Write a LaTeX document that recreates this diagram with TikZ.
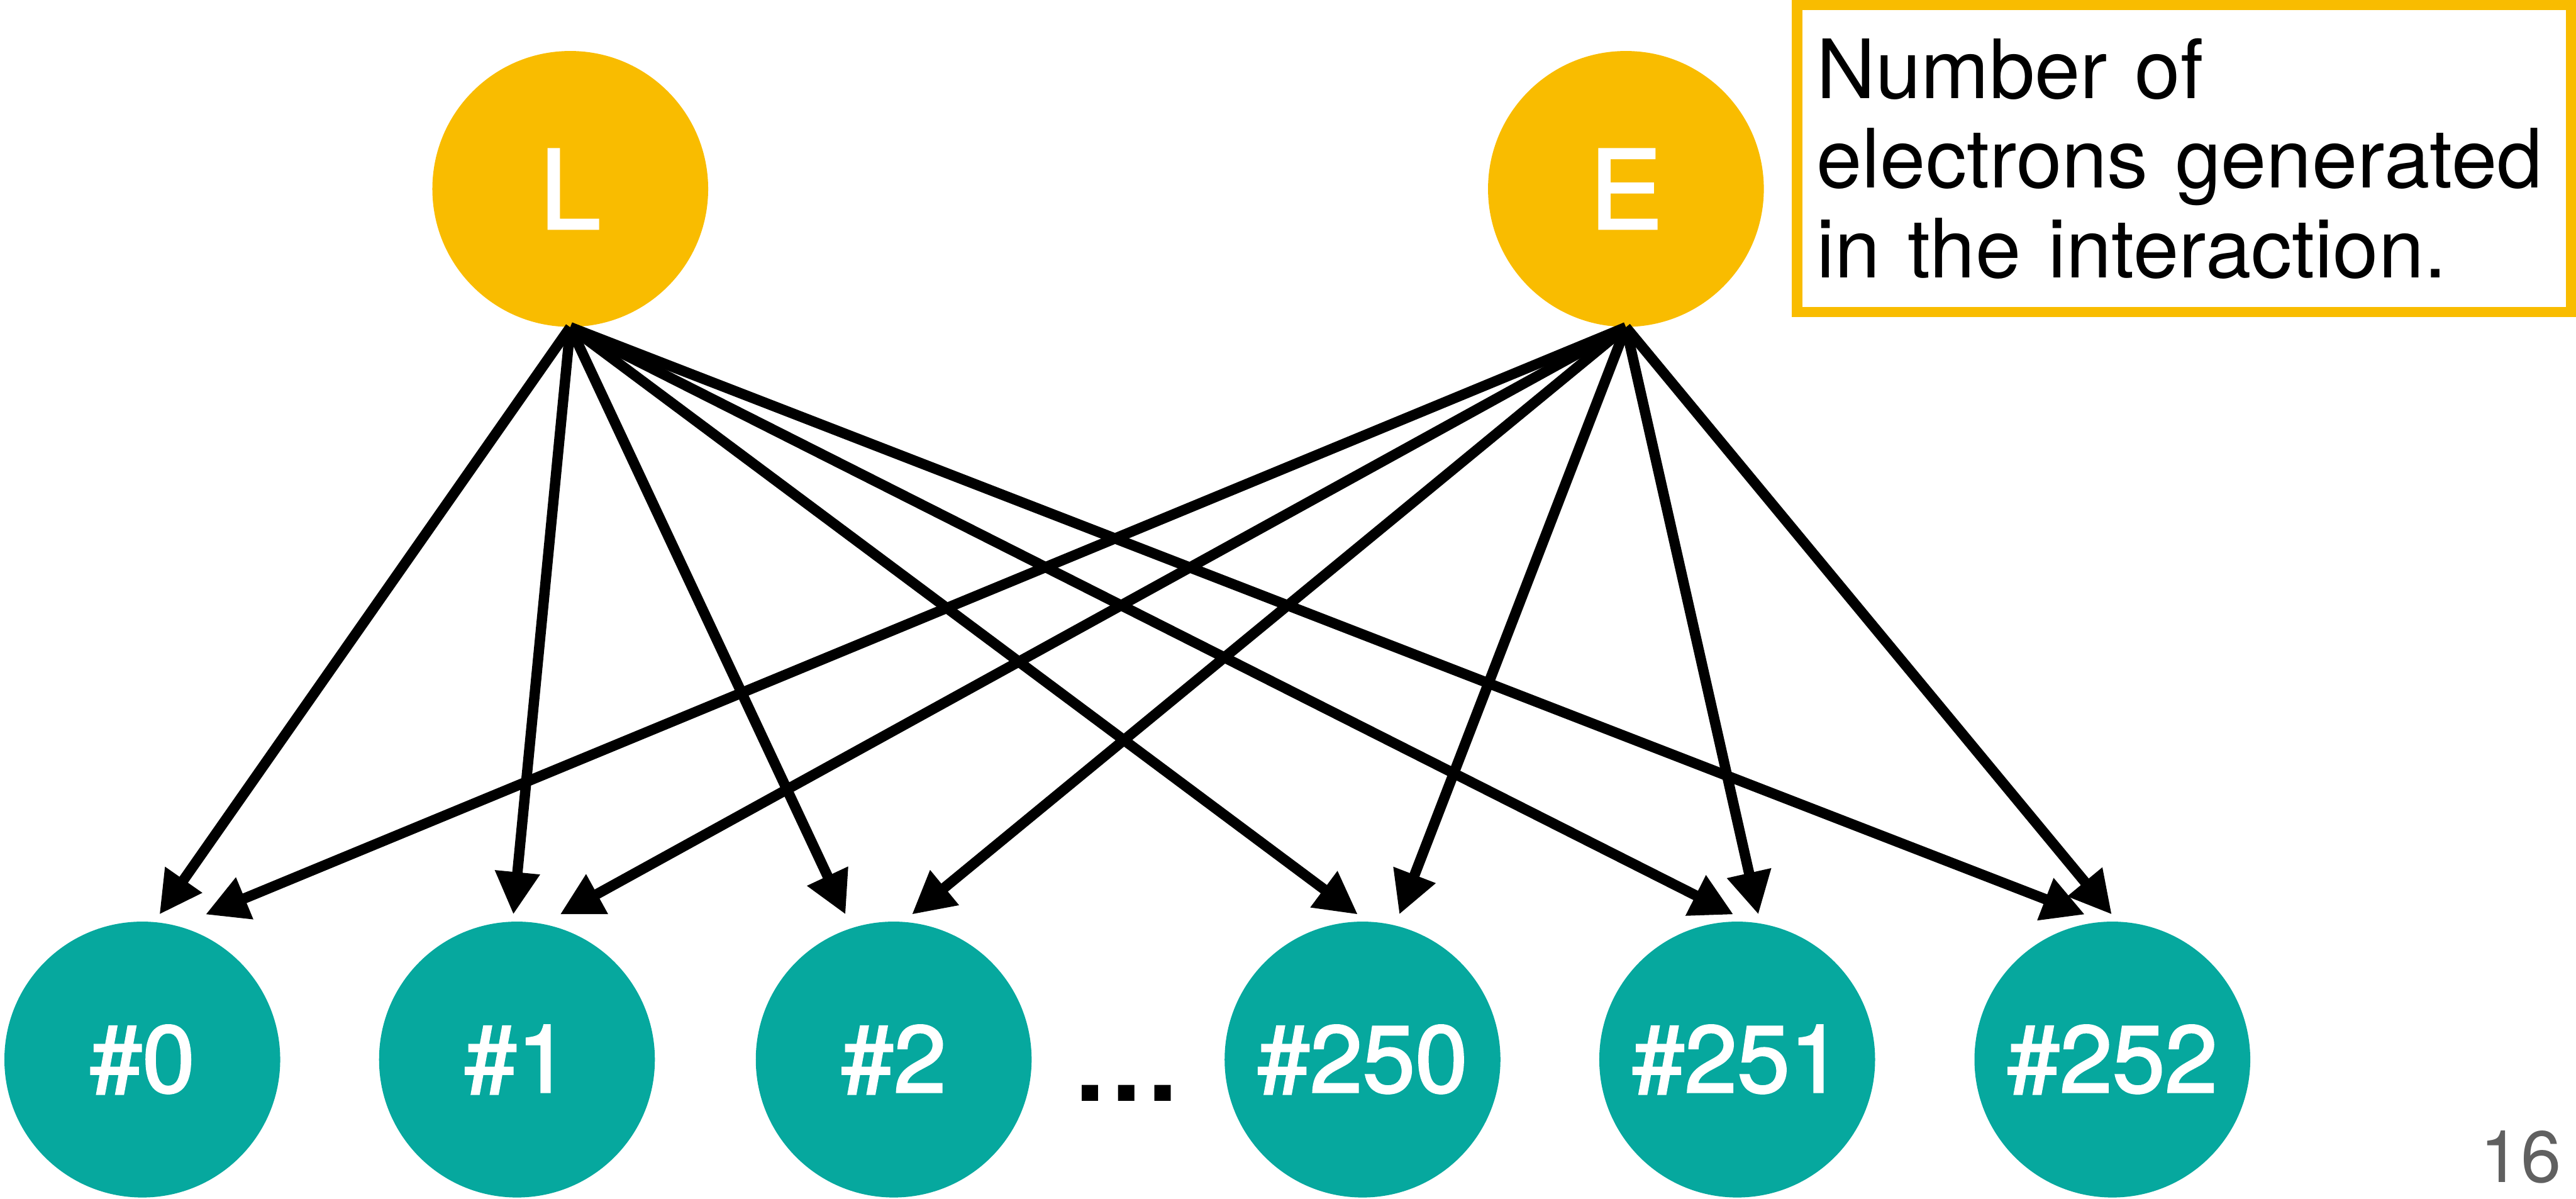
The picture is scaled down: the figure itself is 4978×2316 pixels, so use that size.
\documentclass[tikz,border=0pt]{standalone}
\usepackage{fontspec}
\setmainfont{TeX Gyre Heros}
\newfontfamily\labelfont[FakeBold=2]{TeX Gyre Heros}
\usepackage{tikz}
\usetikzlibrary{arrows.meta}
\usetikzlibrary{calc}
\definecolor{gold}{RGB}{249,188,0}
\definecolor{binteal}{RGB}{6,168,158}
\definecolor{pagegray}{RGB}{96,96,96}

\begin{document}
\begin{tikzpicture}[x=0.1mm,y=-0.1mm,
  srcnode/.style={circle,fill=gold,minimum size=53.3mm,inner sep=0pt,text=white,font=\labelfont\fontsize{60}{60}\selectfont},
  binnode/.style={circle,fill=binteal,minimum size=53.3mm,inner sep=0pt,text=white,font=\labelfont\fontsize{52}{52}\selectfont},
  link/.style={line width=2mm,-{Triangle[length=8.2mm,width=8.2mm]}}]
\useasboundingbox (0,0) rectangle (4978,2316);
\draw (1102,365) node (l) [srcnode] {L};
\draw (3142,365) node (e) [srcnode] {E};
\draw (275,2047) node (n0) [binnode] {\#0};
\draw (999,2047) node (n1) [binnode] {\#1};
\draw (1727,2047) node (n2) [binnode] {\#2};
\draw (2633,2047) node (n250) [binnode] {\#250};
\draw (3357,2047) node (n251) [binnode] {\#251};
\draw (4082,2047) node (n252) [binnode] {\#252};
\draw (2177,2127) node (dots) [anchor=base,inner sep=0pt,font=\bfseries\fontsize{60}{60}\selectfont] {…};
\draw (4220.5,306.5) node (note) [draw=gold,line width=2mm,minimum width=149.5mm,minimum height=59.3mm,inner sep=0pt,text width=142mm,align=left,font=\fontsize{45}{49.2}\selectfont] {Number of\\electrons generated\\in the interaction.};
\draw (4950,2284) node (page) [anchor=base east,inner sep=0pt,text=pagegray,font=\fontsize{40}{40}\selectfont] {16};
\draw[link] (l.south) -- ([xshift=3.3mm,yshift=1.3mm]n0.north);
\draw[link] (l.south) -- ([xshift=-0.7mm,yshift=1.3mm]n1.north);
\draw[link] (l.south) -- ([xshift=-9.3mm,yshift=1.3mm]n2.north);
\draw[link] (l.south) -- ([xshift=-0.9mm,yshift=1.3mm]n250.north);
\draw[link] (l.south) -- ([xshift=-0.7mm,yshift=1.3mm]n251.north);
\draw[link] (l.south) -- ([xshift=-5.3mm,yshift=1.3mm]n252.north);
\draw[link] (e.south) -- ([xshift=12.2mm,yshift=1.3mm]n0.north);
\draw[link] (e.south) -- ([xshift=8.3mm,yshift=1.3mm]n1.north);
\draw[link] (e.south) -- ([xshift=3.5mm,yshift=1.3mm]n2.north);
\draw[link] (e.south) -- ([xshift=7.1mm,yshift=1.3mm]n250.north);
\draw[link] (e.south) -- ([xshift=4.1mm,yshift=1.3mm]n251.north);
\draw[link] (e.south) -- ([xshift=-0.1mm,yshift=1.3mm]n252.north);
\end{tikzpicture}
\end{document}
